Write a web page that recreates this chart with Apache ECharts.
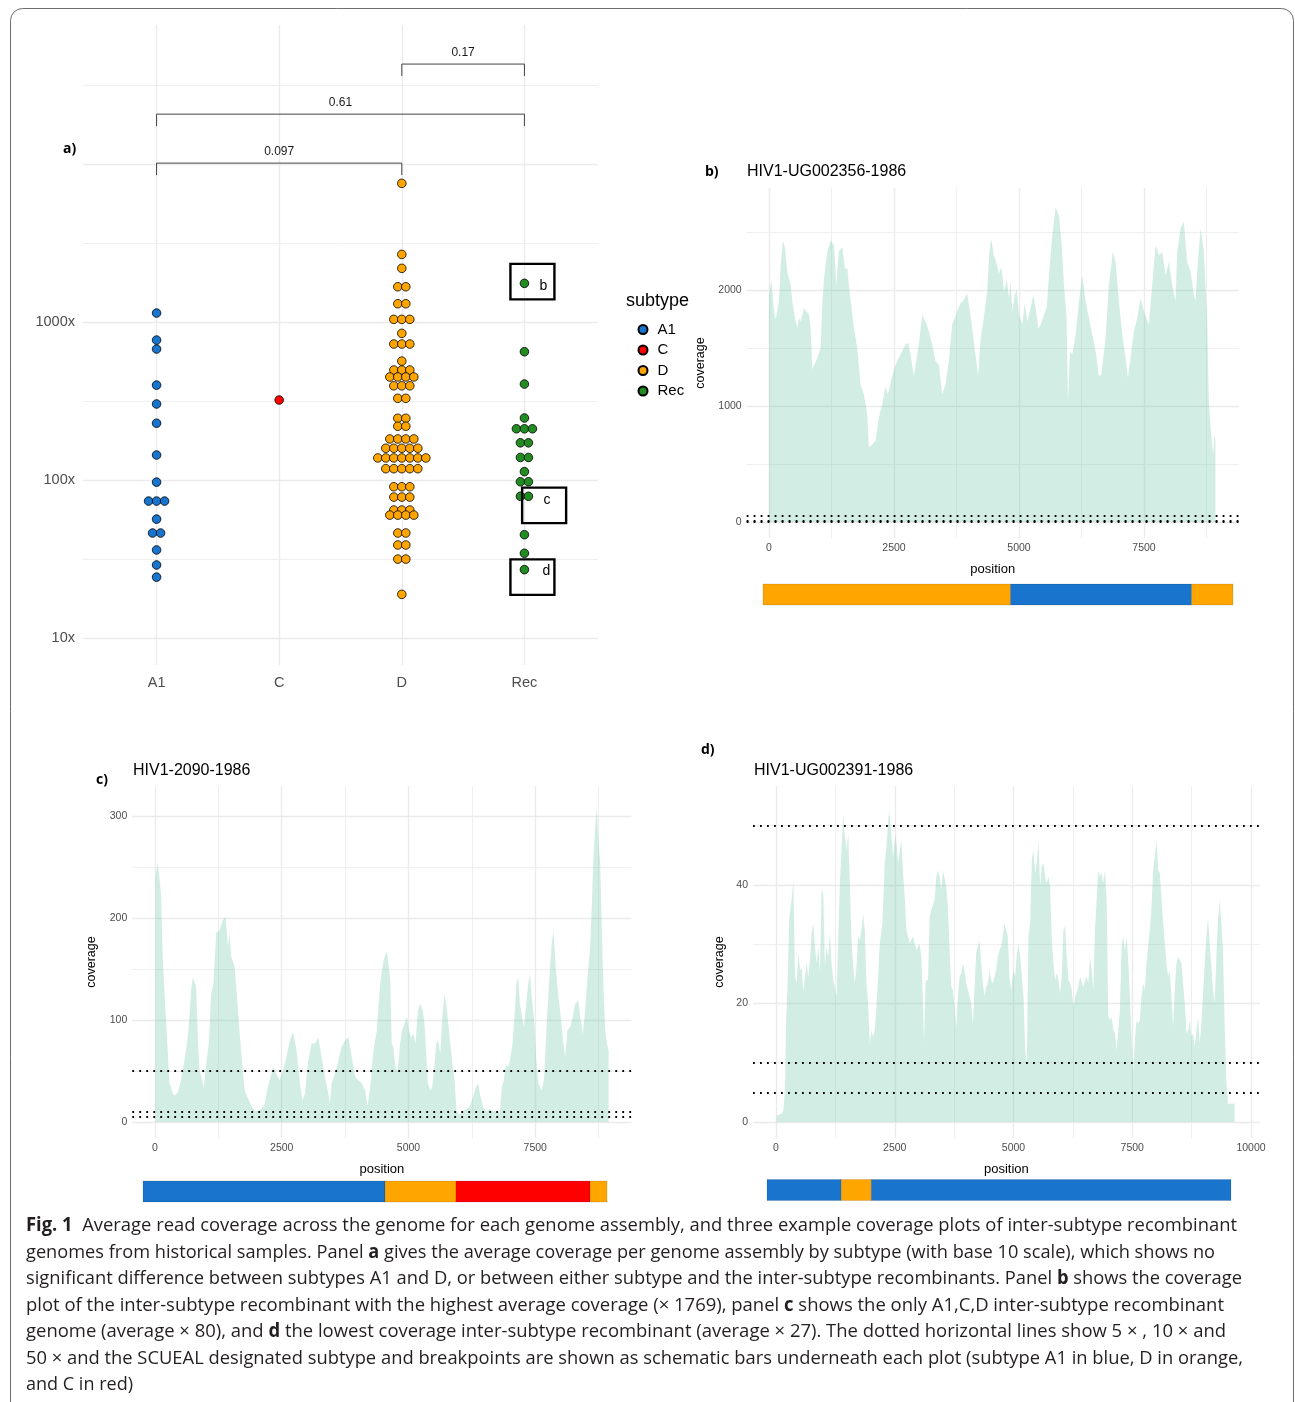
<!DOCTYPE html>
<html>
<head>
<meta charset="utf-8">
<script src="https://cdn.jsdelivr.net/npm/echarts@6/dist/echarts.min.js"></script>
<style>
  html, body { margin: 0; padding: 0; background: #fff; }
  #fig { width: 1295px; height: 1402px; }
</style>
</head>
<body>
<div id="fig"></div>
<script>
// ---- panel a: average coverage per genome assembly (log10 dotplot)
var subtypes = ['A1', 'C', 'D', 'Rec'];
var subtypeColors = ['#1874cd', '#ff0000', '#ffa500', '#228b22'];

var covA1 = [1140, 769, 675, 399, 303, 229, 144, 97, 73.6, 73.6, 73.6, 56.6, 46.2, 46.2, 36.1, 29.0, 24.3];
var covC = [321];
var covD = [7550, 2680, 2188, 1673, 1673, 1306, 1306, 1040, 1040, 1040, 848, 726, 726, 726, 566,
    497, 497, 497, 449, 449, 449, 449, 395, 395, 395, 329, 329, 246, 246, 219, 219,
    182, 182, 182, 182, 159, 159, 159, 159, 159, 138, 138, 138, 138, 138, 138, 138,
    118, 118, 118, 118, 118, 90.7, 90.7, 90.7, 78, 78, 78, 64.6, 64.6, 64.6,
    60, 60, 60, 60, 46.2, 46.2, 38.8, 38.8, 31.6, 31.6, 18.9];
var covRec = [1758, 649, 405, 247, 211, 211, 211, 172, 172, 139, 139, 113, 97.5, 97.5, 78.9, 78.9, 45.1, 34.4, 27.1];

var yLabelsA = [10, 100, 1000];
var yGridMajorA = [10, 100, 1000, 10000];
var yGridMinorA = [31.6, 316, 3162, 31623];

// wilcoxon p-values between subtypes
var bracketFrom = [0, 0, 2];
var bracketTo = [2, 3, 3];
var bracketAt = [10140, 20700, 42950];
var bracketP = ['0.097', '0.61', '0.17'];

// the three example recombinants (average coverage)
var calloutX = [3, 3, 3];
var calloutY = [1769, 80, 27];
var calloutLabel = ['b', 'c', 'd'];

// ---- panels b-d: coverage along the genome [position, coverage]
var profileB = [[0,1950],[47,2085],[100,1814],[133,1743],[166,1743],[200,1900],[233,2200],[280,2428],[320,2357],[366,2157],[433,2043],[466,1900],[520,1757],[566,1671],[600,1757],[633,1729],[700,1843],[733,1857],[800,1786],[833,1671],[866,1314],[900,1300],[966,1414],[1032,1500],[1066,1871],[1100,2100],[1166,2329],[1232,2428],[1300,2386],[1345,2043],[1399,2329],[1465,2371],[1518,2186],[1565,2186],[1612,1986],[1698,1671],[1765,1500],[1831,1186],[1898,1100],[1964,929],[1998,643],[2065,671],[2131,700],[2165,700],[2198,900],[2264,1014],[2331,1171],[2377,1100],[2431,1200],[2498,1314],[2564,1386],[2631,1443],[2731,1529],[2784,1543],[2831,1443],[2897,1257],[2931,1271],[2997,1529],[3064,1786],[3130,1729],[3197,1643],[3263,1529],[3330,1386],[3397,1357],[3463,1100],[3530,1186],[3597,1386],[3663,1700],[3763,1814],[3830,1886],[3897,1914],[3963,1971],[4029,1786],[4096,1557],[4129,1443],[4183,1257],[4229,1557],[4296,1757],[4362,1986],[4409,2329],[4442,2443],[4496,2300],[4542,2243],[4600,2143],[4647,2200],[4700,1986],[4754,2086],[4800,1929],[4833,2071],[4867,1814],[4913,1957],[4953,2000],[5000,1786],[5067,1700],[5113,1886],[5167,1729],[5233,1843],[5286,1957],[5333,1843],[5386,1671],[5433,1700],[5500,1786],[5553,1843],[5600,2129],[5666,2471],[5733,2714],[5799,2643],[5852,2400],[5899,2043],[5952,1757],[5979,1014],[6019,1471],[6066,1443],[6132,1614],[6199,1900],[6265,2129],[6332,1900],[6399,1757],[6465,1614],[6532,1471],[6598,1257],[6645,1271],[6732,1586],[6798,2043],[6878,2329],[6931,2243],[6998,1900],[7065,1614],[7131,1414],[7178,1243],[7231,1414],[7298,1643],[7364,1757],[7431,1929],[7498,1814],[7597,1700],[7664,2043],[7731,2386],[7797,2300],[7864,2329],[7930,2129],[7997,2243],[8064,2043],[8130,1900],[8164,2329],[8230,2529],[8297,2586],[8363,2243],[8430,2157],[8497,1957],[8530,1900],[8563,2157],[8630,2529],[8697,2329],[8763,1757],[8796,1043],[8843,757],[8883,586],[8910,757],[8929,700]];

var profileC = [[10,240],[53,254],[86,240],[119,224],[152,162],[185,129],[218,100],[251,70],[284,38],[317,34],[350,28],[383,26],[449,29],[515,41],[581,60],[647,83],[680,103],[713,129],[746,142],[779,137],[812,132],[845,83],[878,51],[931,41],[964,33],[1010,57],[1063,77],[1109,126],[1155,136],[1208,185],[1274,188],[1340,198],[1393,201],[1439,172],[1472,185],[1505,162],[1571,152],[1617,123],[1657,96],[1703,67],[1769,31],[1835,23],[1901,16],[1967,11],[2033,11],[2099,13],[2165,18],[2211,31],[2264,41],[2330,54],[2396,47],[2462,41],[2528,51],[2594,64],[2660,80],[2726,88],[2792,70],[2858,38],[2911,21],[2957,28],[3023,60],[3089,77],[3155,77],[3221,83],[3287,64],[3353,44],[3419,28],[3452,18],[3485,38],[3551,47],[3617,60],[3683,74],[3749,80],[3815,83],[3881,64],[3947,44],[4013,41],[4079,38],[4145,31],[4191,15],[4244,34],[4310,70],[4376,90],[4442,136],[4508,158],[4574,168],[4640,140],[4670,77],[4703,73],[4743,54],[4789,50],[4835,77],[4875,90],[4921,96],[4967,103],[5007,90],[5053,83],[5099,86],[5139,77],[5185,109],[5231,116],[5284,109],[5317,96],[5350,67],[5383,38],[5429,31],[5469,34],[5515,57],[5548,77],[5581,80],[5627,67],[5667,103],[5713,126],[5759,109],[5812,83],[5865,57],[5911,41],[5944,11],[6010,7],[6076,11],[6142,13],[6208,15],[6274,25],[6327,34],[6373,38],[6419,25],[6472,15],[6538,10],[6604,13],[6670,10],[6736,11],[6802,8],[6841,34],[6881,41],[6921,57],[6967,54],[7000,60],[7053,77],[7099,109],[7132,136],[7165,142],[7198,116],[7231,106],[7277,93],[7317,113],[7363,136],[7396,145],[7429,123],[7475,103],[7515,64],[7561,38],[7627,31],[7673,41],[7726,96],[7779,142],[7825,175],[7858,188],[7904,152],[7957,123],[8003,103],[8056,77],[8089,64],[8135,90],[8188,93],[8241,103],[8287,116],[8353,119],[8386,103],[8439,86],[8485,109],[8531,142],[8584,172],[8617,214],[8650,260],[8696,299],[8716,308],[8749,275],[8782,253],[8815,185],[8848,129],[8881,90],[8914,77],[8947,70]];

var profileD = [[14,1.1],[119,1.4],[154,2],[189,5.4],[210,16.6],[238,22],[280,34.6],[329,37.5],[364,40.8],[399,24.5],[434,23.4],[469,28.5],[504,25.6],[539,26],[574,22],[609,24.5],[644,26.8],[679,24.5],[714,27.3],[749,31.8],[784,33.5],[819,29.6],[854,26.8],[889,29.6],[924,25.1],[959,39.2],[994,38.6],[1029,26.2],[1064,29.6],[1099,27.9],[1134,31.8],[1169,26.8],[1204,23.9],[1239,22.8],[1274,21.1],[1309,30.7],[1344,40.3],[1379,45.9],[1414,52.1],[1449,48.2],[1484,45.9],[1519,48.7],[1554,40.3],[1589,30.7],[1624,26.2],[1659,23.4],[1694,26.2],[1729,31.3],[1764,30.7],[1799,32.4],[1834,35.2],[1869,32.4],[1904,23.4],[1939,20],[1974,13.2],[2009,15.5],[2044,14.4],[2079,15.5],[2114,19.4],[2149,24.5],[2184,30.1],[2240,33.5],[2289,43.7],[2324,46.5],[2380,52.7],[2408,50.4],[2464,44.8],[2520,48.7],[2569,43.7],[2639,47.6],[2674,42],[2709,38],[2744,32.4],[2779,31.3],[2814,30.1],[2849,30.7],[2884,31.3],[2954,29],[3024,30.1],[3059,27.9],[3094,20],[3115,13.2],[3150,23.9],[3199,23.9],[3234,34.6],[3269,35.8],[3304,35.8],[3339,37.5],[3374,41.4],[3409,42.5],[3444,41.4],[3479,39.2],[3514,42.5],[3549,42.5],[3584,39.7],[3619,35.8],[3654,29],[3689,22.8],[3724,22.3],[3759,19.4],[3794,16],[3829,21.1],[3864,24.5],[3899,25.1],[3934,26.8],[3969,25.6],[4004,23.4],[4039,22.3],[4074,21.1],[4109,20],[4144,16.6],[4179,22.3],[4214,28.5],[4249,29.6],[4284,30.7],[4319,26.8],[4354,23.4],[4389,21.1],[4424,22.8],[4459,23.4],[4494,25.6],[4529,23.9],[4564,23.4],[4599,24.5],[4634,25.6],[4669,27.9],[4704,29],[4739,29.6],[4774,31.3],[4809,33.5],[4844,32.4],[4879,31.3],[4914,24.5],[4949,22.3],[5000,25.6],[5035,24.5],[5070,28.5],[5105,30.1],[5140,27.9],[5175,27.9],[5210,21.1],[5245,12.1],[5280,9.9],[5315,31.3],[5350,33.5],[5385,44.2],[5420,45.9],[5455,42],[5490,43.7],[5525,47.6],[5560,39.7],[5595,43.1],[5630,43.7],[5665,41.4],[5700,40.3],[5735,41.4],[5770,39.7],[5805,30.7],[5840,26.8],[5875,23.9],[5910,25.1],[5945,23.9],[5980,21.6],[6015,24.5],[6050,32.4],[6085,33],[6120,27.9],[6155,23.9],[6190,23.4],[6225,22.3],[6260,19.4],[6295,21.1],[6330,21.1],[6365,22.8],[6400,24.5],[6435,24.5],[6470,22.8],[6505,23.9],[6540,24.5],[6575,23.4],[6610,27.9],[6645,25.6],[6680,22.3],[6715,32.4],[6750,37.5],[6785,42.5],[6820,41.4],[6855,42],[6890,40.3],[6925,42.5],[6960,37.5],[6995,17.7],[7030,17.2],[7065,17.7],[7100,15.5],[7135,14.9],[7170,12.1],[7205,15.5],[7240,18.9],[7275,29.6],[7310,31.3],[7345,29],[7380,31.3],[7415,27.3],[7450,21.1],[7485,13.8],[7520,8.2],[7555,13.8],[7590,17.2],[7625,16.6],[7660,17.2],[7695,21.1],[7730,23.4],[7765,22.3],[7800,26.8],[7835,29.6],[7870,32.4],[7905,36.3],[7940,42.5],[7975,44.8],[8010,47.6],[8045,42.5],[8080,42],[8115,38],[8150,33.5],[8185,30.1],[8220,26.8],[8255,24.5],[8290,25.6],[8325,21.1],[8360,16],[8395,22.3],[8430,26.8],[8465,27.9],[8500,27.9],[8535,26.8],[8570,23.4],[8605,20],[8640,14.9],[8675,15.5],[8710,17.2],[8745,14.4],[8780,14.9],[8815,12.7],[8850,15.5],[8885,17.7],[8920,13.2],[8955,16.6],[8990,16.6],[9025,26.8],[9060,31.3],[9095,34.6],[9130,30.1],[9165,26.2],[9200,22.3],[9235,20],[9270,27.9],[9305,34.1],[9340,37.5],[9375,33.5],[9410,29],[9445,16.6],[9480,7],[9515,3.1],[9655,3.1]];

var thresholds = [5, 10, 50];

var yTicksB = [0, 1000, 2000], yMinorB = [500, 1500, 2500];
var yTicksC = [0, 100, 200, 300], yMinorC = [50, 150, 250];
var yTicksD = [0, 20, 40], yMinorD = [10, 30, 50];
var xTicks = [0, 2500, 5000, 7500], xMinor = [1250, 3750, 6250, 8750];
var xTicksD = [0, 2500, 5000, 7500, 10000];

// SCUEAL subtype / breakpoint schematics [start, end, subtype]
var genomeLen = 9000;
var barB = [[0, 4741, 'D'], [4741, 8207, 'A1'], [8207, 9000, 'D']];
var barC = [[0, 4694, 'A1'], [4694, 6071, 'D'], [6071, 8670, 'C'], [8670, 9000, 'D']];
var barD = [[0, 1440, 'A1'], [1440, 2023, 'D'], [2023, 9000, 'A1']];

// ---- layout
var dotStep = 0.0653;
var gridColor = '#ebebeb';
var labelColor = '#4d4d4d';
var areaFill = 'rgba(102,194,165,0.3)';

function dotplot(values, center) {
    var counts = {}, seen = {};
    values.forEach(function (v) { counts[v] = (counts[v] || 0) + 1; });
    return values.map(function (v) {
        var k = seen[v] = (seen[v] || 0) + 1;
        return [center + (k - 1 - (counts[v] - 1) / 2) * dotStep, v];
    });
}

function gridLines(xMajor, xMinor, yMajor, yMinor) {
    var d = [];
    xMajor.forEach(function (v) { d.push({ xAxis: v, lineStyle: { width: 1.4 } }); });
    xMinor.forEach(function (v) { d.push({ xAxis: v, lineStyle: { width: 0.8 } }); });
    yMajor.forEach(function (v) { d.push({ yAxis: v, lineStyle: { width: 1.4 } }); });
    yMinor.forEach(function (v) { d.push({ yAxis: v, lineStyle: { width: 0.8 } }); });
    return {
        silent: true, z: 0, symbol: ['none', 'none'], label: { show: false },
        lineStyle: { color: gridColor, type: 'solid' }, animation: false, data: d
    };
}

function gridSeries(idx, xMajor, xMinor, yMajor, yMinor) {
    return {
        type: 'line', xAxisIndex: idx, yAxisIndex: idx, data: [], z: 0,
        markLine: gridLines(xMajor, xMinor, yMajor, yMinor)
    };
}

function coverageSeries(idx, profile) {
    return {
        type: 'line', xAxisIndex: idx, yAxisIndex: idx, data: profile, z: 2,
        showSymbol: false, symbol: 'none', lineStyle: { width: 0 },
        areaStyle: { color: areaFill, opacity: 1 },
        markLine: {
            silent: true, z: 5, symbol: ['none', 'none'], label: { show: false }, animation: false,
            lineStyle: { color: '#000', width: 1.8, type: [1.8, 5.2] },
            data: thresholds.map(function (t) { return { yAxis: t }; })
        }
    };
}

function plain(v) { return String(v); }

function covXAxis(idx, min, max, ticks) {
    return {
        type: 'value', gridIndex: idx, min: min, max: max,
        name: 'position', nameLocation: 'middle', nameGap: 25,
        nameTextStyle: { fontSize: 13, color: '#000' },
        axisLine: { show: false }, axisTick: { show: false }, splitLine: { show: false },
        axisLabel: { customValues: ticks, fontSize: 10.5, color: labelColor, margin: 5, formatter: plain }
    };
}

function covYAxis(idx, min, max, ticks, gap) {
    return {
        type: 'value', gridIndex: idx, min: min, max: max,
        name: 'coverage', nameLocation: 'middle', nameGap: gap, nameRotate: 90,
        nameTextStyle: { fontSize: 12.5, color: '#000' },
        axisLine: { show: false }, axisTick: { show: false }, splitLine: { show: false },
        axisLabel: { customValues: ticks, fontSize: 10.5, color: labelColor, margin: 5, formatter: plain }
    };
}

function barAxes(idx) {
    return [
        { type: 'value', gridIndex: idx, min: 0, max: genomeLen, show: false },
        { type: 'value', gridIndex: idx, min: 0, max: 1, show: false }
    ];
}

function barSeries(idx, segs) {
    return {
        type: 'custom', xAxisIndex: idx, yAxisIndex: idx, clip: false, z: 3,
        encode: { x: [0, 1] },
        data: segs.map(function (s) { return [s[0], s[1], subtypes.indexOf(s[2])]; }),
        renderItem: function (params, api) {
            var p0 = api.coord([api.value(0), 1]);
            var p1 = api.coord([api.value(1), 0]);
            return {
                type: 'rect',
                shape: { x: p0[0], y: p0[1], width: p1[0] - p0[0], height: p1[1] - p0[1] },
                style: { fill: subtypeColors[api.value(2)], stroke: 'rgba(0,0,0,0.2)', lineWidth: 0.6 }
            };
        }
    };
}

// caption, each line fitted to the width it has in the figure
var captionLines = [
    [['Fig. 1', 1], ['  Average read coverage across the genome for each genome assembly, and three example coverage plots of inter-subtype recombinant', 0]],
    [['genomes from historical samples. Panel ', 0], ['a', 1], [' gives the average coverage per genome assembly by subtype (with base 10 scale), which shows no', 0]],
    [['significant difference between subtypes A1 and D, or between either subtype and the inter-subtype recombinants. Panel ', 0], ['b', 1], [' shows the coverage', 0]],
    [['plot of the inter-subtype recombinant with the highest average coverage (\u00d7 1769), panel ', 0], ['c', 1], [' shows the only A1,C,D inter-subtype recombinant', 0]],
    [['genome (average \u00d7 80), and ', 0], ['d', 1], [' the lowest coverage inter-subtype recombinant (average \u00d7 27). The dotted horizontal lines show 5 \u00d7 , 10 \u00d7 and', 0]],
    [['50 \u00d7 and the SCUEAL designated subtype and breakpoints are shown as schematic bars underneath each plot (subtype A1 in blue, D in orange,', 0]],
    [['and C in red)', 0]]
];
var captionRight = [1237, 1215, 1242, 1224, 1226, 1243, 133];
var captionFont = '"Open Sans"';
var captionSize = 19;

var measureCtx = document.createElement('canvas').getContext('2d');
function segWidth(text, bold) {
    measureCtx.font = (bold ? 'bold ' : '') + captionSize + 'px ' + captionFont;
    return measureCtx.measureText(text).width;
}

var captionGraphics = captionLines.map(function (segs, i) {
    var w = 0, txt = '';
    segs.forEach(function (s) {
        w += segWidth(s[0], s[1]);
        txt += '{' + (s[1] ? 'b' : 'n') + '|' + s[0] + '}';
    });
    return {
        type: 'text', x: 26, y: 1226 + i * 26.5, scaleX: (captionRight[i] - 26) / w,
        style: {
            text: txt, verticalAlign: 'middle', fill: '#231f20',
            rich: {
                n: { fontFamily: captionFont, fontSize: captionSize, color: '#231f20' },
                b: { fontFamily: captionFont, fontSize: captionSize, fontWeight: 'bold', color: '#231f20' }
            }
        }
    };
});

function label(text, x, y, size, bold) {
    return {
        type: 'text', x: x, y: y,
        style: {
            text: text, fontSize: size, fontWeight: bold ? 'bold' : 'normal',
            fontFamily: bold ? '"Open Sans"' : '"Liberation Sans"',
            fill: '#000', verticalAlign: 'middle'
        }
    };
}

var chart = echarts.init(document.getElementById('fig'), null, { renderer: 'canvas' });

var option = {
    animation: false,
    backgroundColor: '#fff',
    textStyle: { fontFamily: '"Liberation Sans", Arial, sans-serif' },
    grid: [
        { left: 83, top: 25, width: 515, height: 640, outerBoundsMode: 'none' },
        { left: 746.65, top: 188, width: 492.2, height: 350, outerBoundsMode: 'none' },
        { left: 132.3, top: 786, width: 499.1, height: 352, outerBoundsMode: 'none' },
        { left: 753, top: 786, width: 506.8, height: 352, outerBoundsMode: 'none' },
        { left: 763, top: 584, width: 470, height: 21, outerBoundsMode: 'none' },
        { left: 143, top: 1181, width: 464, height: 21, outerBoundsMode: 'none' },
        { left: 767, top: 1179.5, width: 464, height: 21, outerBoundsMode: 'none' }
    ],
    legend: {
        data: subtypes, orient: 'vertical', left: 632.5, top: 316.5,
        icon: 'circle', itemWidth: 9, itemHeight: 9, itemGap: 4.5,
        textStyle: { fontSize: 15, color: '#000', lineHeight: 16, padding: [0, 0, 0, 5] },
        selectedMode: false
    },
    xAxis: [
        {
            type: 'value', gridIndex: 0, min: -0.6, max: 3.6,
            axisLine: { show: false }, axisTick: { show: false }, splitLine: { show: false },
            axisLabel: {
                customValues: [0, 1, 2, 3], fontSize: 14.5, color: labelColor, margin: 10,
                formatter: function (v) { return subtypes[Math.round(v)]; }
            }
        },
        covXAxis(1, -447, 9397, xTicks),
        covXAxis(2, -447, 9397, xTicks),
        covXAxis(3, -485, 10185, xTicksD)
    ].concat([barAxes(4)[0], barAxes(5)[0], barAxes(6)[0]]),
    yAxis: [
        {
            type: 'log', logBase: 10, gridIndex: 0, min: 6.75, max: 75900,
            axisLine: { show: false }, axisTick: { show: false }, splitLine: { show: false },
            axisLabel: {
                customValues: yLabelsA, fontSize: 14.5, color: labelColor, margin: 8,
                formatter: function (v) { return Math.round(v) + 'x'; }
            }
        },
        covYAxis(1, -138, 2879, yTicksB, 40),
        covYAxis(2, -15.7, 329.4, yTicksC, 34),
        covYAxis(3, -2.7, 56.7, yTicksD, 27)
    ].concat([barAxes(4)[1], barAxes(5)[1], barAxes(6)[1]]),
    series: [
        gridSeries(0, [0, 1, 2, 3], [], yGridMajorA, yGridMinorA),
        gridSeries(1, xTicks, xMinor, yTicksB, yMinorB),
        gridSeries(2, xTicks, xMinor, yTicksC, yMinorC),
        gridSeries(3, xTicksD, xMinor, yTicksD, yMinorD),
        coverageSeries(1, profileB),
        coverageSeries(2, profileC),
        coverageSeries(3, profileD),
        barSeries(4, barB),
        barSeries(5, barC),
        barSeries(6, barD),
        {
            // significance brackets
            type: 'custom', xAxisIndex: 0, yAxisIndex: 0, clip: false, z: 3,
            encode: { x: [0, 1], y: 2 },
            data: bracketFrom.map(function (f, i) { return [f, bracketTo[i], bracketAt[i]]; }),
            renderItem: function (params, api) {
                var a = api.coord([api.value(0), api.value(2)]);
                var b = api.coord([api.value(1), api.value(2)]);
                return {
                    type: 'group', children: [
                        {
                            type: 'polyline',
                            shape: { points: [[a[0], a[1] + 12], [a[0], a[1]], [b[0], b[1]], [b[0], b[1] + 12]] },
                            style: { stroke: '#444', lineWidth: 1, fill: null }
                        },
                        {
                            type: 'text', x: (a[0] + b[0]) / 2, y: a[1] - 11,
                            style: {
                                text: bracketP[params.dataIndex], fontSize: 12, fill: '#1a1a1a',
                                align: 'center', verticalAlign: 'middle', fontFamily: '"Liberation Sans"'
                            }
                        }
                    ]
                };
            }
        },
        {
            // boxes round the example recombinants
            type: 'custom', xAxisIndex: 0, yAxisIndex: 0, clip: false, z: 4,
            data: calloutX.map(function (x, i) { return [x, calloutY[i]]; }),
            renderItem: function (params, api) {
                var p = api.coord([api.value(0), api.value(1)]);
                var off = [[-14, -19, 19, 3], [-2.3, -7.7, 22.6, 4.3], [-14, -10.5, 22, 1.5]][params.dataIndex];
                return {
                    type: 'group', children: [
                        {
                            type: 'rect',
                            shape: { x: p[0] + off[0], y: p[1] + off[1], width: 44, height: 35.5 },
                            style: { stroke: '#000', lineWidth: 2.4, fill: null }
                        },
                        {
                            type: 'text', x: p[0] + off[2], y: p[1] + off[3],
                            style: {
                                text: calloutLabel[params.dataIndex], fontSize: 14, fill: '#000',
                                align: 'center', verticalAlign: 'middle', fontFamily: '"Liberation Sans"'
                            }
                        }
                    ]
                };
            }
        }
    ].concat([covA1, covC, covD, covRec].map(function (vals, i) {
        return {
            name: subtypes[i], type: 'scatter', xAxisIndex: 0, yAxisIndex: 0, z: 2,
            data: dotplot(vals, i), symbolSize: 8.6,
            itemStyle: { color: subtypeColors[i], borderColor: '#000', borderWidth: 0.8, opacity: 1 }
        };
    })),
    graphic: [
        {
            type: 'rect', shape: { x: 10.5, y: 8.5, width: 1283, height: 1430, r: 12 },
            style: { stroke: '#6e6e6e', lineWidth: 1, fill: null }, silent: true
        },
        label('a)', 63, 149, 14, true),
        label('b)', 705, 172, 14, true),
        label('c)', 96, 780, 14, true),
        label('d)', 701, 750, 14, true),
        label('HIV1-UG002356-1986', 747, 172, 16, false),
        label('HIV1-2090-1986', 133, 771, 16, false),
        label('HIV1-UG002391-1986', 754, 771, 16, false),
        label('subtype', 626, 301, 18, false)
    ].concat(captionGraphics)
};

chart.setOption(option);
</script>
</body>
</html>
